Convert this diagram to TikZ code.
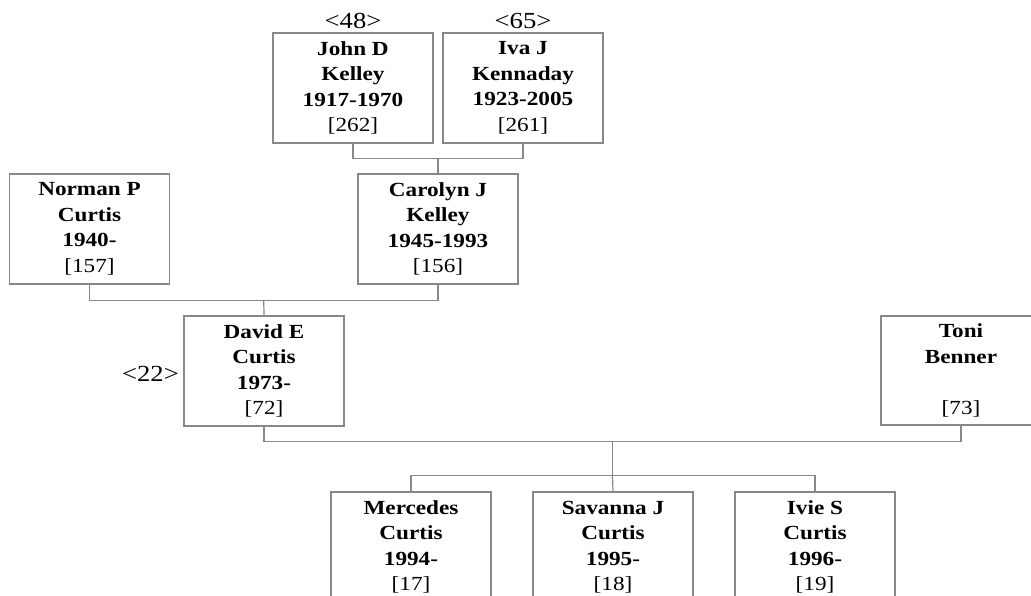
\documentclass[tikz,border=0pt]{standalone}
\usepackage{fontspec}
\setmainfont[FakeStretch=1.16]{Liberation Serif}
\usetikzlibrary{calc}
\definecolor{linegray}{RGB}{136,136,136}
\begin{document}
\begin{tikzpicture}[x=1pt,y=-1pt,
  person/.style={draw=linegray, line width=1.2pt, rectangle, inner sep=0pt,
    minimum width=160pt, minimum height=110pt, align=center,
    font=\fontsize{20}{25.5}\selectfont},
  conn/.style={draw=linegray, line width=1.2pt},
  num/.style={font=\fontsize{23}{27}\selectfont, inner sep=0pt}]
\useasboundingbox (0,0) rectangle (1031,596);
\clip (0,0) rectangle (1031,596);

% grandparents
\node[person] (john) at (353,88) {\textbf{John D}\\\textbf{Kelley}\\\textbf{1917-1970}\\{[}262{]}};
\node[person] (iva) at (523,88) {\textbf{Iva J}\\\textbf{Kennaday}\\\textbf{1923-2005}\\{[}261{]}};
\node[num, anchor=base] (l48) at (353,28.5) {<48>};
\node[num, anchor=base] (l65) at (523,28.5) {<65>};

% parents
\node[person] (norman) at (89.5,229) {\textbf{Norman P}\\\textbf{Curtis}\\\textbf{1940-}\hspace*{6pt}\\{[}157{]}};
\node[person] (carolyn) at (438,229) {\textbf{Carolyn J}\\\textbf{Kelley}\\\textbf{1945-1993}\\{[}156{]}};

% couple
\node[person] (david) at (264,371) {\textbf{David E}\\\textbf{Curtis}\\\textbf{1973-}\hspace*{5pt}\\{[}72{]}};
\node[person, minimum height=109pt] (toni) at (961,370.5) {\textbf{Toni}\\\textbf{Benner}\\\strut\\{[}73{]}};
\node[num, anchor=base east] (l22) at (179,381.5) {<22>};

% children
\node[person] (mercedes) at (411,547) {\textbf{Mercedes}\\\textbf{Curtis}\\\textbf{1994-}\hspace*{6pt}\\{[}17{]}};
\node[person] (savanna) at (613,547) {\textbf{Savanna J}\\\textbf{Curtis}\\\textbf{1995-}\hspace*{6pt}\\{[}18{]}};
\node[person] (ivie) at (815,547) {\textbf{Ivie S}\\\textbf{Curtis}\\\textbf{1996-}\hspace*{6pt}\\{[}19{]}};

% connectors
\coordinate (jk) at ($(john.south)!0.5!(iva.south)+(0,15)$);
\draw[conn] (john.south) -- ++(0,15) -| (iva.south);
\draw[conn] (jk) -- (carolyn.north);

\coordinate (nc) at ($(norman.south)!0.5!(carolyn.south)+(0,16)$);
\draw[conn] (norman.south) -- ++(0,16) -| (carolyn.south);
\draw[conn] (nc) -- (david.north);

\coordinate (dt) at ($(david.south)!0.5!(toni.south)+(0,15)$);
\draw[conn] (david.south) -- ++(0,15) -| (toni.south);
\coordinate (kids) at ($(dt)+(0,35)$);
\draw[conn] (dt) -- (kids);
\draw[conn] (mercedes.north) -- ++(0,-16) -| (ivie.north);
\draw[conn] (savanna.north) -- (kids);
\end{tikzpicture}
\end{document}
